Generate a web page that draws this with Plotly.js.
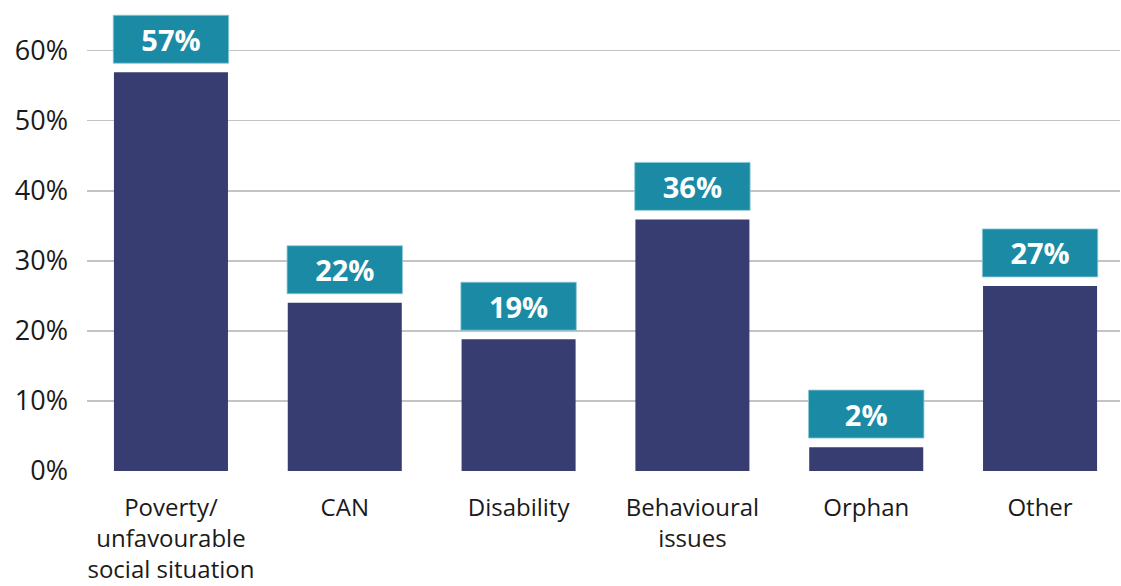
<!DOCTYPE html>
<html>
<head>
<meta charset="utf-8">
<script src="https://cdn.plot.ly/plotly-3.0.1.min.js"></script>
<style>
html,body{margin:0;padding:0;background:#fff;}
#chart{width:1121px;height:586px;}
</style>
</head>
<body>
<div id="chart"></div>
<script>
var categories = ["Poverty/<br>unfavourable<br>social situation", "CAN", "Disability", "Behavioural<br>issues", "Orphan", "Other"];
var barValues = [56.9, 24.0, 18.8, 35.9, 3.4, 26.4];
var labelTexts = ["57%", "22%", "19%", "36%", "2%", "27%"];
var yTickVals = [0, 10, 20, 30, 40, 50, 60];
var yTickText = ["0%", "10%", "20%", "30%", "40%", "50%", "60%"];

var GAP = 1.3;      // gap between bar top and label box (in %)
var BOX_H = 6.85;   // label box height (in %)
var BAR_W = 0.656;

var idx = categories.map(function(_, i){ return i; });

var bars = {
  type: 'bar',
  x: idx,
  y: barValues,
  width: BAR_W,
  marker: {color: '#373D71'},
  hoverinfo: 'skip'
};

var boxes = {
  type: 'bar',
  x: idx,
  y: barValues.map(function(){ return BOX_H; }),
  base: barValues.map(function(v){ return v + GAP; }),
  width: BAR_W + 0.008,
  marker: {color: '#1B8BA5', line: {color: '#8cc9d6', width: 0.8}},
  text: labelTexts,
  textposition: 'inside',
  insidetextanchor: 'middle',
  textangle: 0,
  textfont: {family: 'Open Sans, sans-serif', size: 29, color: '#ffffff', weight: 'bold'},
  constraintext: 'none',
  hoverinfo: 'skip'
};

var layout = {
  width: 1121,
  height: 586,
  margin: {l: 87, r: 1, t: 10, b: 115},
  paper_bgcolor: '#ffffff',
  plot_bgcolor: '#ffffff',
  showlegend: false,
  barmode: 'overlay',
  font: {family: 'Open Sans, sans-serif', color: '#1a1a1a'},
  xaxis: {
    range: [-0.483, 5.46],
    tickvals: idx,
    ticktext: categories,
    ticks: 'outside',
    ticklen: 15,
    tickcolor: 'rgba(0,0,0,0)',
    tickfont: {family: 'Open Sans, sans-serif', size: 24, color: '#1a1a1a'},
    showgrid: false,
    zeroline: false,
    showline: false,
    fixedrange: true
  },
  yaxis: {
    range: [0, 65.8],
    tickvals: yTickVals,
    ticktext: yTickText,
    ticks: '',
    ticklabelstandoff: 18,
    tickfont: {family: 'Open Sans, sans-serif', size: 27, color: '#1a1a1a'},
    showgrid: true,
    gridcolor: '#c4c4c4',
    gridwidth: 1.5,
    zeroline: false,
    showline: false,
    fixedrange: true
  }
};

Plotly.newPlot('chart', [bars, boxes], layout, {displayModeBar: false, staticPlot: true});
</script>
</body>
</html>
